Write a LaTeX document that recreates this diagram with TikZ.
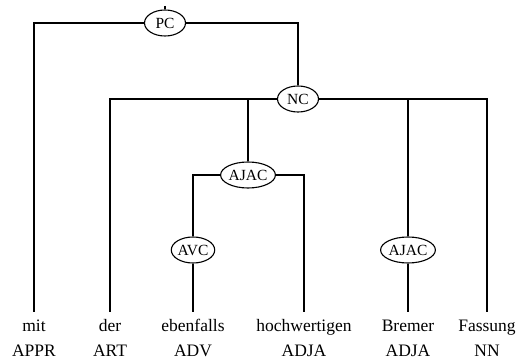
\documentclass[tikz,border=0pt]{standalone}
\usepackage{fontspec}
\setmainfont{Liberation Serif}
\usetikzlibrary{shapes.geometric}
\begin{document}
\begin{tikzpicture}[x=1pt,y=-1pt,line width=1.1pt,
  cat/.style={ellipse,draw,inner xsep=0pt,inner ysep=0pt,
    minimum width=41pt,minimum height=26pt,
    font=\fontsize{15.5}{18}\selectfont},
  word/.style={anchor=base,inner xsep=0pt,inner ysep=7pt,
    text height=12pt,text depth=4pt,
    font=\fontsize{17.5}{20}\selectfont},
  tag/.style={anchor=base,inner sep=0pt,
    font=\fontsize{17.5}{20}\selectfont}]
\useasboundingbox (0,0) rectangle (517,363);

% phrase nodes
\node[cat] (pc) at (165,23) {PC};
\node[cat] (nc) at (298,99) {NC};
\node[cat] (ajacA) at (248,175) {AJAC};
\node[cat] (avc) at (193,250) {AVC};
\node[cat] (ajacB) at (408,250) {AJAC};
\coordinate (root) at (165,6);

% words
\node[word] (w1) at (34,332) {mit};
\node[word] (w2) at (110,332) {der};
\node[word] (w3) at (193,332) {ebenfalls};
\node[word] (w4) at (304,332) {hochwertigen};
\node[word] (w5) at (408,332) {Bremer};
\node[word] (w6) at (487,332) {Fassung};

% part-of-speech tags
\node[tag] (t1) at (34,357) {APPR};
\node[tag] (t2) at (110,357) {ART};
\node[tag] (t3) at (193,357) {ADV};
\node[tag] (t4) at (304,357) {ADJA};
\node[tag] (t5) at (408,357) {ADJA};
\node[tag] (t6) at (487,357) {NN};

% tree edges
\draw (root) -- (pc.north);
\draw (pc.west) -| (w1.north);
\draw (pc.east) -| (nc.north);
\draw (nc.west) -| (w2.north);
\draw (ajacA.north) -- (ajacA.north |- nc.west);
\draw (nc.east) -| (w6.north);
\draw (ajacB.north) -- (ajacB.north |- nc.east);
\draw (ajacA.west) -| (avc.north);
\draw (ajacA.east) -| (w4.north);
\draw (avc.south) -- (w3.north);
\draw (ajacB.south) -- (w5.north);
\end{tikzpicture}
\end{document}
